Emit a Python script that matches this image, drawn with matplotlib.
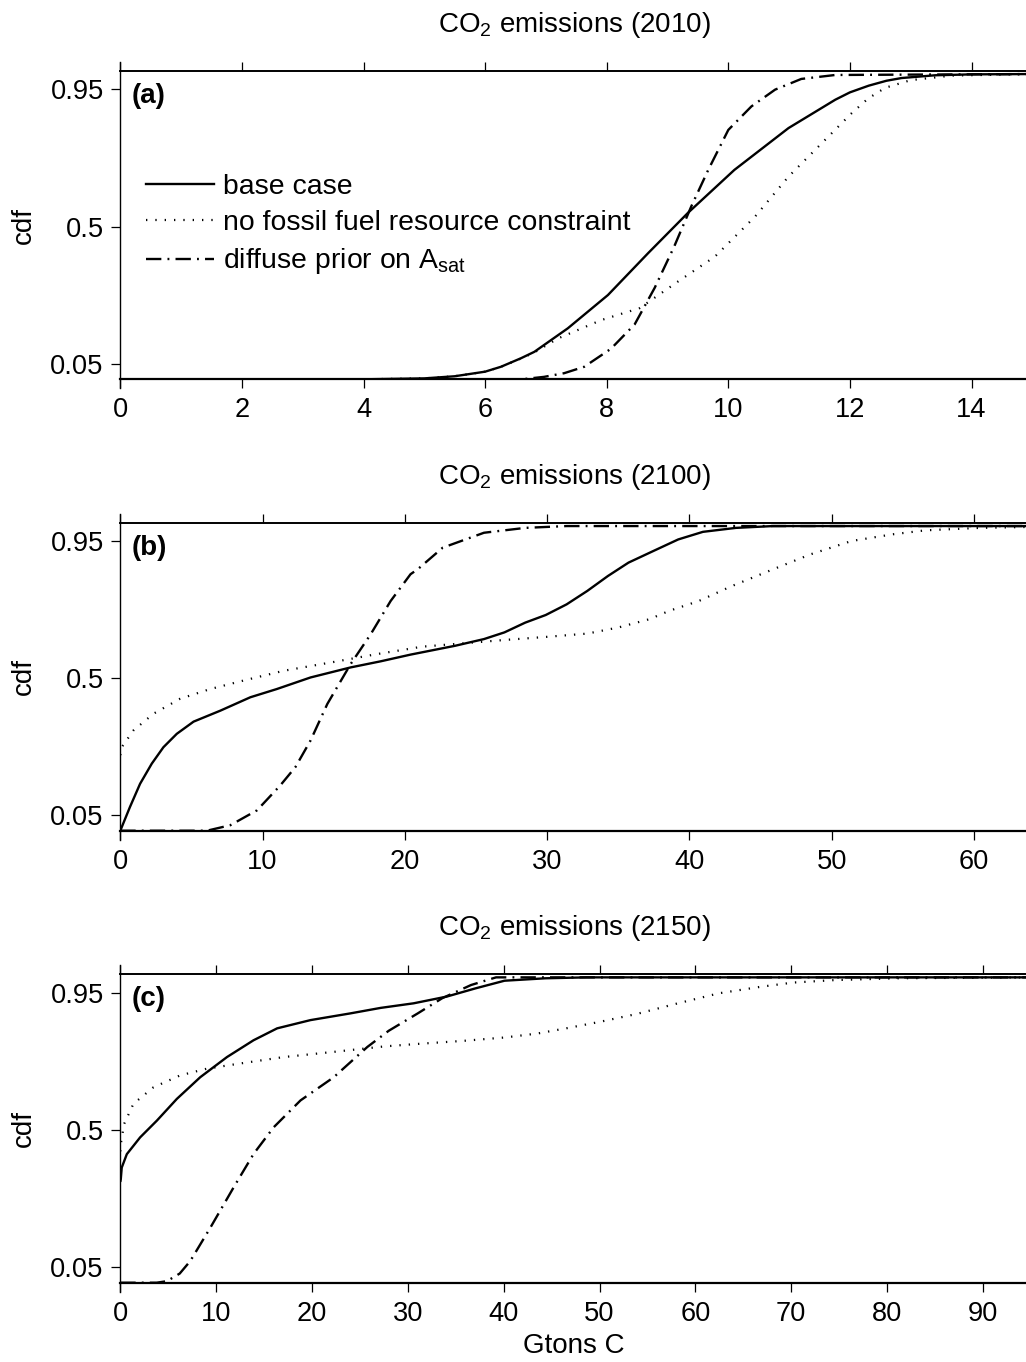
import matplotlib
matplotlib.use("Agg")
import matplotlib.pyplot as plt
from matplotlib.lines import Line2D

plt.rcParams['font.family'] = ['Liberation Sans', 'DejaVu Sans']
plt.rcParams['mathtext.fontset'] = 'custom'
plt.rcParams['mathtext.rm'] = 'Liberation Sans'
plt.rcParams['mathtext.it'] = 'Liberation Sans:italic'
plt.rcParams['mathtext.bf'] = 'Liberation Sans:bold'

# ---- panel (a): CO2 emissions 2010 ----
a_base_x = [0, 4.0, 5.0, 5.5, 6.0, 6.26, 6.59, 6.81, 7.36, 8.02, 8.68, 9.34, 10.1, 10.99, 11.76, 12.0, 12.31, 12.6,
            12.85, 13.4, 14.0, 14.93]
a_base_y = [0, 0.0, 0.003, 0.01, 0.025, 0.041, 0.069, 0.090, 0.167, 0.276, 0.413, 0.546, 0.686, 0.823, 0.916, 0.94,
            0.962, 0.978, 0.987, 0.996, 0.999, 1.0]
a_nofos_x = [0, 4.0, 5.0, 5.5, 6.0, 6.26, 6.59, 6.81, 7.2, 7.91, 8.54, 9.17, 9.78, 10.44, 10.99, 11.54, 12.03, 12.3,
             12.58, 13.0, 13.68, 14.93]
a_nofos_y = [0, 0, 0.003, 0.01, 0.025, 0.041, 0.068, 0.088, 0.134, 0.194, 0.233, 0.320, 0.402, 0.533, 0.664, 0.774,
             0.872, 0.92, 0.955, 0.98, 0.995, 1.0]
a_diff_x = [0, 6.6, 6.97, 7.3, 7.63, 8.07, 8.46, 8.79, 9.11, 9.39, 9.67, 10.0, 10.38, 10.77, 11.2, 11.76, 14.93]
a_diff_y = [0, 0.0, 0.008, 0.02, 0.041, 0.10, 0.18, 0.30, 0.435, 0.566, 0.686, 0.817, 0.894, 0.949, 0.984, 0.997, 1.0]

# ---- panel (b): CO2 emissions 2100 ----
b_base_x = [0, 0.68, 1.39, 2.21, 3.03, 3.97, 5.15, 7.03, 9.14, 11.0, 13.37, 16.19, 18.3, 20.4, 23.53, 25.56, 27.0,
            28.46, 29.9, 31.37, 32.82, 34.27, 35.72, 37.46, 39.21, 40.95, 43.27, 45.88, 63.8]
b_base_y = [0, 0.078, 0.154, 0.22, 0.274, 0.318, 0.358, 0.394, 0.438, 0.465, 0.503, 0.536, 0.556, 0.578, 0.607, 0.629, 0.651,
            0.683, 0.708, 0.743, 0.787, 0.836, 0.88, 0.918, 0.956, 0.981, 0.994, 1.0, 1.0]
b_nofos_x = [0, 0.1, 0.92, 2.33, 4.2, 6.32, 8.67, 11.49, 14.78, 18.07, 20.18, 21.2, 24.1, 27.0, 29.9, 32.82, 35.0,
             37.17, 38.6, 40.66, 42.98, 45.88, 48.5, 51.4, 54.3, 56.6, 60.4, 63.8]
b_nofos_y = [0.248, 0.274, 0.329, 0.384, 0.433, 0.465, 0.493, 0.525, 0.552, 0.58, 0.596, 0.604, 0.615, 0.626, 0.636, 0.647, 0.667,
             0.694, 0.722, 0.754, 0.803, 0.858, 0.907, 0.951, 0.973, 0.986, 0.994, 0.997]
b_diff_x = [0, 6.09, 7.73, 9.61, 11.25, 12.31, 13.37, 14.55, 16.19, 17.6, 19.0, 20.4, 20.9, 22.66, 25.56, 28.46, 31.37, 63.8]
b_diff_y = [0, 0, 0.018, 0.067, 0.149, 0.209, 0.296, 0.416, 0.547, 0.645, 0.754, 0.842, 0.858, 0.929, 0.978, 0.994, 1.0, 1.0]

# ---- panel (c): CO2 emissions 2150 ----
c_base_x = [0, 0.05, 0.15, 0.68, 2.07, 3.82, 5.9, 8.34, 11.13, 13.9, 16.36, 19.84, 24.0, 27.16, 30.6, 34.05, 37.06,
            40.08, 44.38, 48.7, 94.7]
c_base_y = [0.33, 0.339, 0.377, 0.421, 0.476, 0.531, 0.602, 0.673, 0.739, 0.794, 0.833, 0.86, 0.882, 0.9, 0.915, 0.937, 0.964,
            0.989, 0.997, 1.0, 1.0]
c_nofos_x = [0, 0.05, 0.4, 1.37, 3.46, 6.25, 9.04, 12.52, 17.05, 22.27, 27.6, 31.46, 35.77, 40.08, 43.5, 46.5, 49.98,
             53.86, 58.17, 62.48, 66.78, 70.2, 74.5, 81.0, 94.7]
c_nofos_y = [0.43, 0.454, 0.52, 0.586, 0.64, 0.679, 0.701, 0.718, 0.739, 0.756, 0.774, 0.783, 0.792, 0.803, 0.816, 0.833, 0.854,
             0.88, 0.915, 0.948, 0.969, 0.983, 0.991, 0.997, 1.0]
c_diff_x = [0, 3.8, 4.86, 6.2, 7.3, 9.39, 11.82, 13.91, 16.0, 18.8, 22.27, 25.77, 28.0, 31.03, 33.6, 36.6, 39.2, 94.7]
c_diff_y = [0, 0, 0.005, 0.03, 0.071, 0.18, 0.312, 0.422, 0.509, 0.597, 0.673, 0.772, 0.825, 0.882, 0.932, 0.975, 1.0, 1.0]

titles = ['CO$_2$ emissions (2010)', 'CO$_2$ emissions (2100)', 'CO$_2$ emissions (2150)']
panel_tags = ['(a)', '(b)', '(c)']
xmax = [14.93, 63.8, 94.7]
xticks = [list(range(0, 15, 2)), list(range(0, 61, 10)), list(range(0, 91, 10))]
yticks = [0.05, 0.5, 0.95]
ytick_labels = ['0.05', '0.5', '0.95']
labels = ['base case', 'no fossil fuel resource constraint', r'diffuse prior on A$_{\rm sat}$']

data = [
    [(a_base_x, a_base_y), (a_nofos_x, a_nofos_y), (a_diff_x, a_diff_y)],
    [(b_base_x, b_base_y), (b_nofos_x, b_nofos_y), (b_diff_x, b_diff_y)],
    [(c_base_x, c_base_y), (c_nofos_x, c_nofos_y), (c_diff_x, c_diff_y)],
]

styles = [
    dict(ls='-', lw=1.7),
    dict(ls=(0, (0.6, 3.6)), lw=1.6),
    dict(ls=(0, (6.5, 2.6, 0.8, 2.6)), lw=1.7),
]

W, H = 1026, 1362
fig = plt.figure(figsize=(W / 100, H / 100), dpi=100)

# axes boxes in pixels: (top, bottom)
boxes = [(70.7, 379.3), (522.7, 830.7), (974.0, 1282.7)]
left_px = 120.3
fs = 19.6

axes = []
for i, (top, bot) in enumerate(boxes):
    ax = fig.add_axes([left_px / W, (H - bot) / H, (W - left_px) / W + 0.002, (bot - top) / H])
    axes.append(ax)
    for (xs, ys), st in zip(data[i], styles):
        ax.plot(xs, ys, color='black', solid_capstyle='butt', dash_capstyle='butt',
                solid_joinstyle='round', **st)
    ax.set_xlim(0, xmax[i])
    ax.set_ylim(0, 1.011)
    ax.set_xticks(xticks[i])
    ax.set_yticks(yticks)
    ax.set_yticklabels(ytick_labels)
    ax.tick_params(axis='both', direction='out', length=6.5, width=0.9, labelsize=fs, pad=5.5)
    ax.tick_params(axis='x', top=True, labeltop=False, pad=6.5)
    ax.spines['right'].set_visible(False)
    ax.spines['top'].set_linewidth(1.4)
    ax.spines['bottom'].set_linewidth(1.6)
    ax.spines['left'].set_visible(False)
    hgt = bot - top
    ext = 9.0 / hgt
    ax.add_line(Line2D([0, 0], [-ext, 1 + ext], transform=ax.transAxes, color='black',
                       lw=1.0, clip_on=False))
    ax.text(0.5, 1 + 39.0 / hgt, titles[i], transform=ax.transAxes, ha='center', va='baseline',
            fontsize=20)
    ax.text(11.4 / (W - left_px), 1 - 12.3 / hgt, panel_tags[i], transform=ax.transAxes,
            ha='left', va='top', fontsize=20, fontweight='bold')
    ax.text(-(left_px - 24) / (W - left_px), 0.5, 'cdf', transform=ax.transAxes, rotation=90,
            ha='center', va='center', fontsize=20)

axes[2].text(0.5, -(1353 - 1282.7) / (1282.7 - 974.0), 'Gtons C', transform=axes[2].transAxes,
             ha='center', va='baseline', fontsize=20)

handles = [Line2D([], [], color='black', **st) for st in styles]
leg = axes[0].legend(handles, labels, loc='upper left', bbox_to_anchor=(0.0284, 0.665),
                     frameon=False, fontsize=20.4, handlelength=2.4, handletextpad=0.3,
                     labelspacing=0.36, borderpad=0, borderaxespad=0)

fig.savefig('out.png', dpi=100)
